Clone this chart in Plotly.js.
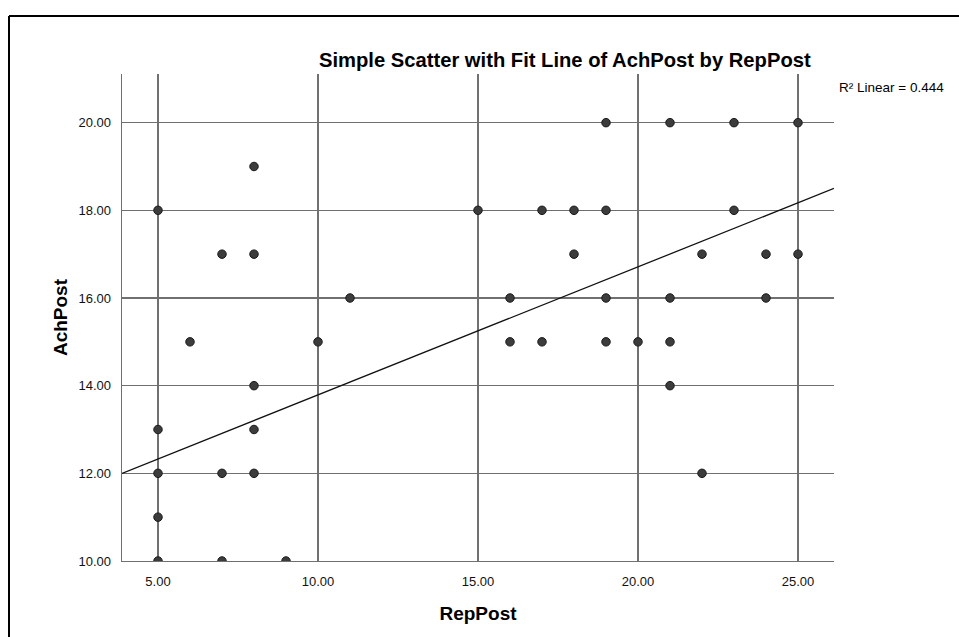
<!DOCTYPE html>
<html>
<head>
<meta charset="utf-8">
<script src="https://cdn.plot.ly/plotly-3.0.1.min.js"></script>
<style>
html,body{margin:0;padding:0;background:#fff;}
#chart{width:959px;height:637px;}
</style>
</head>
<body>
<div id="chart"></div>
<script>
// RepPost (x) and AchPost (y) values
const repPost = [8, 5, 7, 8, 11, 6, 10, 8, 5, 8, 5, 7, 8, 5, 5, 7, 9,
                 19, 21, 23, 25,
                 15, 17, 18, 19, 23,
                 18, 22, 24, 25,
                 16, 19, 21, 24,
                 16, 17, 19, 20, 21,
                 21, 22];
const achPost = [19, 18, 17, 17, 16, 15, 15, 14, 13, 13, 12, 12, 12, 11, 10, 10, 10,
                 20, 20, 20, 20,
                 18, 18, 18, 18, 18,
                 17, 17, 17, 17,
                 16, 16, 16, 16,
                 15, 15, 15, 15, 15,
                 14, 12];
// Fit line end points
const fitX = [3.875, 26.125];
const fitY = [12.0, 18.5];
const xTicks = [5, 10, 15, 20, 25];
const yTicks = [10, 12, 14, 16, 18, 20];
const titleText = 'Simple Scatter with Fit Line of AchPost by RepPost';
const r2Text = 'R² Linear = 0.444';

const font = 'Liberation Sans, Arial, sans-serif';

const traces = [
  {
    x: fitX, y: fitY, type: 'scatter', mode: 'lines',
    line: {color: '#111', width: 1.3}, hoverinfo: 'skip'
  },
  {
    x: repPost, y: achPost, type: 'scatter', mode: 'markers',
    marker: {size: 8.5, color: '#3c3c3c', line: {color: '#1a1a1a', width: 1}},
    cliponaxis: true
  }
];

const axisCommon = {
  showgrid: true, gridcolor: '#707070', gridwidth: 1.3,
  zeroline: false, ticks: '', showline: true, linecolor: '#707070', linewidth: 1.3,
  tickformat: '.2f', tickfont: {family: font, size: 13, color: '#111'},
  automargin: false, fixedrange: true
};

const frameLine = {color: '#000', width: 2};

const layout = {
  width: 959, height: 637,
  margin: {l: 122, r: 125, t: 74, b: 76},
  paper_bgcolor: '#fff', plot_bgcolor: '#fff',
  showlegend: false,
  title: {
    text: '<b>' + titleText + '</b>',
    font: {family: font, size: 20.2, color: '#000'},
    x: 0.589, xref: 'container', xanchor: 'center',
    y: 0.906, yref: 'container', yanchor: 'middle'
  },
  xaxis: Object.assign({}, axisCommon, {
    range: [3.875, 26.125], tickvals: xTicks, ticklabelstandoff: 8,
    title: {text: '<b>RepPost</b>', font: {family: font, size: 19, color: '#000'}, standoff: 18}
  }),
  yaxis: Object.assign({}, axisCommon, {
    range: [10, 21.11], tickvals: yTicks, ticklabelstandoff: 7,
    title: {text: '<b>AchPost</b>', font: {family: font, size: 19, color: '#000'}, standoff: 6}
  }),
  annotations: [
    {
      text: r2Text, xref: 'paper', yref: 'paper', x: 1.004, y: 0.973,
      xanchor: 'left', yanchor: 'middle', showarrow: false,
      font: {family: font, size: 13.5, color: '#000'}
    }
  ],
  shapes: [
    {type: 'line', xref: 'paper', yref: 'paper', x0: -0.1587, x1: 1.5, y0: 1.119, y1: 1.119, line: frameLine, layer: 'above'},
    {type: 'line', xref: 'paper', yref: 'paper', x0: -0.1587, x1: -0.1587, y0: -0.5, y1: 1.119, line: frameLine, layer: 'above'}
  ]
};

Plotly.newPlot('chart', traces, layout, {displayModeBar: false, staticPlot: true});
</script>
</body>
</html>
